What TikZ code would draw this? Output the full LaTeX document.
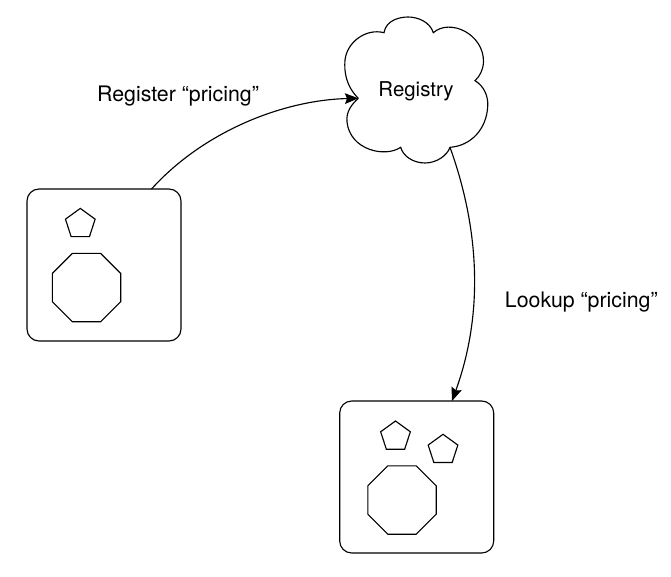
\documentclass[tikz,border=0pt]{standalone}
\usepackage{fontspec}
\setmainfont{TeX Gyre Heros}
\usetikzlibrary{arrows.meta, shapes.geometric}
\tikzset{
  holder/.style={draw, rectangle, rounded corners=9pt, inner sep=0pt, outer sep=0pt, minimum width=115.5pt, minimum height=114pt},
  pent/.style={draw, regular polygon, regular polygon sides=5, inner sep=0pt, outer sep=0pt, minimum size=23.4pt},
  octa/.style={draw, regular polygon, regular polygon sides=8, inner sep=0pt, outer sep=0pt, minimum size=55.5pt},
  lab/.style={font=\fontsize{16}{19}\selectfont, inner sep=0pt},
  cloudlab/.style={font=\fontsize{15.3}{18}\selectfont, inner sep=0pt},
  link/.style={-{Stealth[length=10pt, width=8pt, inset=1.5pt]}}
}

\begin{document}
\begin{tikzpicture}[x=0.75pt, y=-0.75pt, line width=0.85pt]
\useasboundingbox (0,0) rectangle (671,577);
% cloud
\coordinate (cuspw) at (358.3,98.3);
\coordinate (cuspn) at (384,32.7);
\coordinate (cuspne) at (433.3,32.7);
\coordinate (cuspe) at (475,80.7);
\coordinate (cuspse) at (450,147.3);
\coordinate (cuspsw) at (400.7,147.3);
\draw (cuspw) .. controls (346,86) and (344,72) .. (345,60)
  .. controls (347,42) and (366,28) .. (384,32.7)
  .. controls (386,20) and (400,17) .. (408,17)
  .. controls (418,17) and (430,22) .. (433.3,32.7)
  .. controls (450,18) and (484,34) .. (483.5,62)
  .. controls (483,70) and (480,76) .. (475,80.7)
  .. controls (484,86) and (488,96) .. (487.8,105)
  .. controls (487,130) and (470,146) .. (450,147.3)
  .. controls (447,156) and (436,163) .. (425,163)
  .. controls (413,163) and (403,156) .. (400.7,147.3)
  .. controls (385,158) and (350,150) .. (347,122)
  .. controls (346,112) and (351,105) .. (cuspw);
\node[cloudlab] (registry) at (416,91) {Registry};
% left holder
\node[holder] (holdera) at (104,265) {};
\node[pent] (penta) at (80.3,224) {};
\node[octa] (octaa) at (86.5,287.6) {};
% right holder
\node[holder] (holderb) at (416.7,477) {};
\node[pent] (pentb) at (395.5,436.6) {};
\node[pent] (pentc) at (443,449.9) {};
\node[octa] (octab) at (402,500) {};
% connectors
\draw[link] (holdera.58) .. controls (205,130) and (285,100) .. (cuspw);
\draw[link] (cuspse) .. controls (478,225) and (485,310) .. (holderb.north -| 452,0);
% labels
\node[lab] (register) at (178,96) {Register “pricing”};
\node[lab] (lookup) at (581.3,302) {Lookup “pricing”};
\end{tikzpicture}
\end{document}
